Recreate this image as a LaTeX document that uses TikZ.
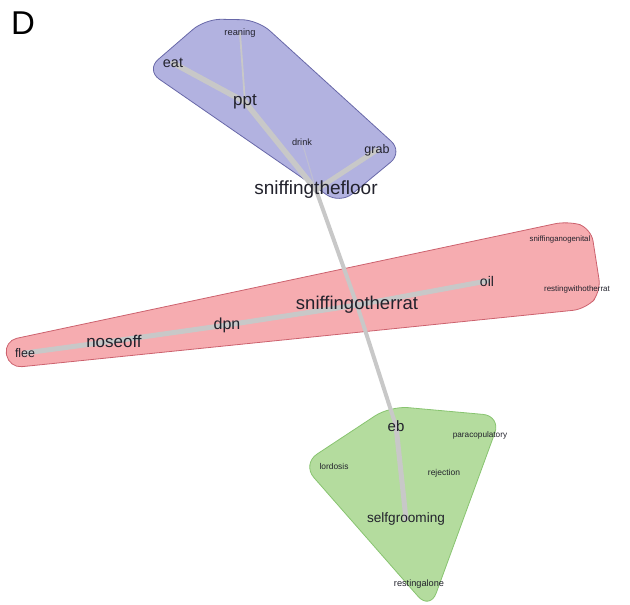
\documentclass[tikz,border=0pt]{standalone}
\usepackage{fontspec}
\setmainfont{Liberation Sans}
\pgfdeclarelayer{hulls}
\pgfdeclarelayer{links}
\pgfsetlayers{hulls,links,main}
\definecolor{bluefill}{RGB}{178,178,224}
\definecolor{blueline}{RGB}{104,104,168}
\definecolor{redfill}{RGB}{246,172,176}
\definecolor{redline}{RGB}{204,98,110}
\definecolor{greenfill}{RGB}{180,220,158}
\definecolor{greenline}{RGB}{136,196,112}
\definecolor{linkgray}{RGB}{200,200,200}
\definecolor{labelink}{RGB}{34,34,44}
\tikzset{
  lbl/.style={inner sep=0pt, text=labelink, font=\fontsize{#1}{#1}\selectfont},
  link/.style={draw=linkgray, line width=#1, line cap=round},
  link/.default=5pt,
  hull/.style={rounded corners=16pt, line width=0.8pt},
}
\begin{document}
\begin{tikzpicture}[x=1pt, y=-1pt]
\useasboundingbox (0,0) rectangle (630,605);

\node[font=\fontsize{33}{33}\selectfont, inner sep=0pt] (panel) at (23,23) {D};

% behaviour labels
\node[lbl=9.3] (reaning) at (240,33) {reaning};
\node[lbl=14.4] (eat) at (173,63) {eat};
\node[lbl=17] (ppt) at (245,102) {ppt};
\node[lbl=9.2] (drink) at (302,142) {drink};
\node[lbl=12.5] (grab) at (377,150) {grab};
\node[lbl=19] (floor) at (316,190) {sniffingthefloor};

\node[lbl=18.5] (other) at (357,305) {sniffingotherrat};
\node[lbl=14] (oil) at (487,281) {oil};
\node[lbl=7.8] (anogen) at (560,239) {sniffinganogenital};
\node[lbl=8] (restwith) at (577,289) {restingwithotherrat};
\node[lbl=16] (dpn) at (227,325) {dpn};
\node[lbl=17] (noseoff) at (114,341) {noseoff};
\node[lbl=12.4] (flee) at (25,353) {flee};

\node[lbl=15] (eb) at (396,426) {eb};
\node[lbl=8.2] (paracop) at (480,435) {paracopulatory};
\node[lbl=8.4] (lordosis) at (334,466) {lordosis};
\node[lbl=8.5] (rejection) at (444,473) {rejection};
\node[lbl=13.6] (selfgroom) at (406,519) {selfgrooming};
\node[lbl=9.2] (restalone) at (419,584) {restingalone};

% cluster hulls
\begin{pgfonlayer}{hulls}
\draw[hull, draw=blueline, fill=bluefill]
  (146,70) -- (205,19) -- (258,20) -- (403,152) -- (340,204) -- cycle;
\draw[hull, rounded corners=13pt, draw=redline, fill=redfill]
  (4,341) -- (568,221) -- (591,228) -- (601,292) -- (586,309) -- (9,368) -- cycle;
\draw[hull, rounded corners=18pt, draw=greenline, fill=greenfill]
  (302,464) -- (390,406) -- (501,416) -- (430,610) -- cycle;
\end{pgfonlayer}

% links between behaviours
\begin{pgfonlayer}{links}
\draw[link=1.8pt] (reaning.center) -- (ppt.center);
\draw[link=5.5pt] (eat.center) -- (ppt.center);
\draw[link=5.5pt] (ppt.center) -- (floor.center);
\draw[link=1.2pt, draw=linkgray!55!bluefill] (drink.center) -- (floor.center);
\draw[link=5pt] (grab.center) -- (floor.center);
\draw[link=4pt] (floor.center) -- (other.center);
\draw[link=4pt] (other.center) -- (eb.center);
\draw[link=5pt] (flee.center) -- (noseoff.center);
\draw[link=5pt] (noseoff.center) -- (dpn.center);
\draw[link=5pt] (dpn.center) -- (other.center);
\draw[link=5pt] (other.center) -- (oil.center);
\draw[link=5pt] (eb.center) -- (selfgroom.center);
\end{pgfonlayer}
\end{tikzpicture}
\end{document}
